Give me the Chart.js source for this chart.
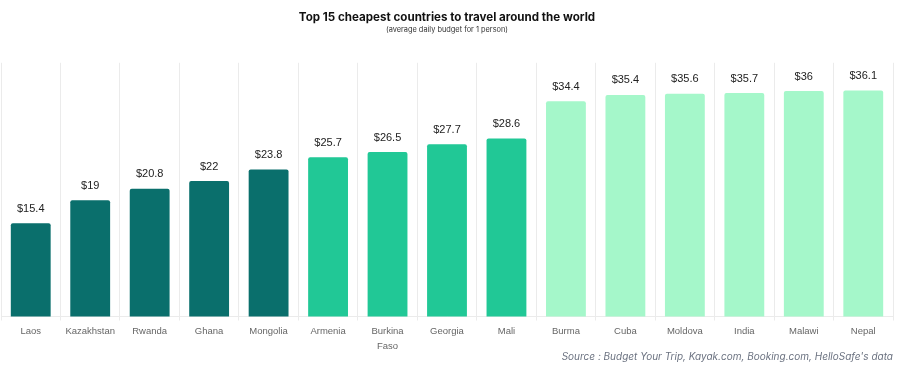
<!DOCTYPE html>
<html>
<head>
<meta charset="utf-8">
<script src="https://cdn.jsdelivr.net/npm/chart.js@4"></script>
<style>
  html, body { margin: 0; padding: 0; background: #fff; }
  #wrap { width: 900px; height: 372px; position: relative; }
</style>
</head>
<body>
<div id="wrap"><canvas id="budget-chart"></canvas></div>
<script>
// Countries and average daily budget (USD)
const countries = ['Laos', 'Kazakhstan', 'Rwanda', 'Ghana', 'Mongolia', 'Armenia', ['Burkina', 'Faso'], 'Georgia', 'Mali', 'Burma', 'Cuba', 'Moldova', 'India', 'Malawi', 'Nepal'];
const budgets = [15.4, 19, 20.8, 22, 23.8, 25.7, 26.5, 27.7, 28.6, 34.4, 35.4, 35.6, 35.7, 36, 36.1];
// price group of each country: 0 = cheapest five, 1 = middle, 2 = upper
const groups = [0, 0, 0, 0, 0, 1, 1, 1, 1, 2, 2, 2, 2, 2, 2];
const groupColors = ['#0a6f6c', '#21c896', '#a5f7ca'];

const titleText = 'Top 15 cheapest countries to travel around the world';
const subtitleText = '(average daily budget for 1 person)';
const sourceText = "Source : Budget Your Trip, Kayak.com, Booking.com, HelloSafe's data";

// draws "$value" above each bar and the source line at the bottom
const valueLabels = {
  id: 'valueLabels',
  afterDatasetsDraw(chart) {
    const ctx = chart.ctx;
    const meta = chart.getDatasetMeta(0);
    ctx.save();
    ctx.font = '11px "Liberation Sans", Arial, sans-serif';
    ctx.fillStyle = '#222';
    ctx.textAlign = 'center';
    ctx.textBaseline = 'bottom';
    meta.data.forEach((bar, i) => {
      ctx.fillText('$' + budgets[i], bar.x, bar.y - 9);
    });
    ctx.restore();
  },
  afterDraw(chart) {
    const ctx = chart.ctx;
    ctx.save();
    ctx.font = 'italic 10px Inter, "Liberation Sans", sans-serif';
    ctx.fillStyle = '#6b7280';
    ctx.textAlign = 'right';
    ctx.textBaseline = 'middle';
    ctx.fillText(sourceText, chart.chartArea.right, 357);
    ctx.restore();
  }
};

new Chart(document.getElementById('budget-chart'), {
  type: 'bar',
  data: {
    labels: countries,
    datasets: [{
      data: budgets,
      backgroundColor: groups.map(g => groupColors[g]),
      borderRadius: 2,
      borderSkipped: 'bottom',
      categoryPercentage: 1,
      barPercentage: 0.67
    }]
  },
  options: {
    responsive: true,
    maintainAspectRatio: false,
    animation: false,
    layout: { padding: { left: 1, right: 7, top: 0, bottom: 15 } },
    plugins: {
      legend: { display: false },
      tooltip: { enabled: false },
      title: {
        display: true,
        text: titleText,
        color: '#111',
        font: { family: 'Inter', size: 11.6, weight: 'bold' },
        padding: { top: 11, bottom: 0 }
      },
      subtitle: {
        display: true,
        text: subtitleText,
        color: '#333',
        font: { family: 'Inter', size: 7.4 },
        padding: { top: 0, bottom: 29 }
      }
    },
    scales: {
      x: {
        grid: { color: '#ebebeb', tickLength: 4, offset: true },
        border: { color: '#ebebeb' },
        ticks: {
          color: '#666',
          padding: 4,
          maxRotation: 0,
          autoSkip: false,
          font: { family: '"Liberation Sans"', size: 9.5, lineHeight: 1.5 }
        }
      },
      y: {
        display: false,
        min: 0.9,
        max: 40.4
      }
    }
  },
  plugins: [valueLabels]
});
</script>
</body>
</html>
